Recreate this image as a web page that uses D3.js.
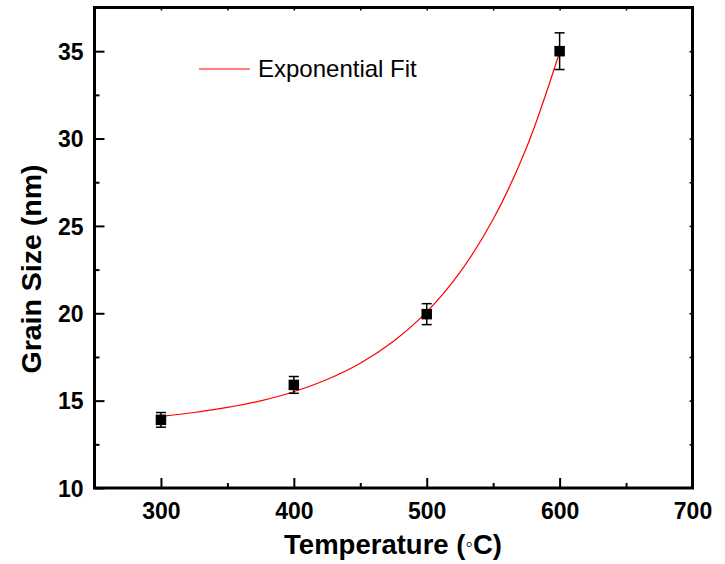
<!DOCTYPE html>
<html>
<head>
<meta charset="utf-8">
<script src="https://cdn.jsdelivr.net/npm/d3@7/dist/d3.min.js"></script>
<style>
  body { margin: 0; background: #fff; }
  svg { display: block; font-family: Arial, "Liberation Sans", sans-serif; }
</style>
</head>
<body>
<svg id="chart" width="725" height="564"></svg>
<script>
// ---- data ----
const temperatures = [300, 400, 500, 600];
const grainSizes   = [13.9, 15.9, 19.95, 35.0];
const grainErrors  = [0.42, 0.48, 0.6, 1.05];

// exponential-fit curve
const fitX = [300, 325, 350, 375, 400, 425, 450, 475, 500, 525, 550, 575, 600];
const fitY = [14.10, 14.32, 14.61, 14.99, 15.51, 16.21, 17.14, 18.40, 20.08, 22.34, 25.38, 29.46, 34.94];

const xTicks = [300, 400, 500, 600, 700];
const xMinor = [350, 450, 550, 650];
const yTicks = [10, 15, 20, 25, 30, 35];
const yMinor = [12.5, 17.5, 22.5, 27.5, 32.5, 37.5];

const xLabel = "Temperature (";
const yLabel = "Grain Size (nm)";
const legendLabel = "Exponential Fit";

// ---- layout ----
const svg = d3.select("#chart");
const L = 94.5, R = 692.5, T = 7.5, B = 488;
const x = d3.scaleLinear().domain([250, 700]).range([L, R]);
const y = d3.scaleLinear().domain([10, 37.5]).range([B, T]);

// fit line
const line = d3.line().x((d, i) => x(fitX[i])).y(d => y(d)).curve(d3.curveCatmullRom.alpha(0.5));
svg.append("path").datum(fitY).attr("d", line)
  .attr("fill", "none").attr("stroke", "#ff0000").attr("stroke-width", 1.2);

// error bars
const pts = temperatures.map((t, i) => ({t, v: grainSizes[i], e: grainErrors[i]}));
const eb = svg.append("g").attr("stroke", "#000").attr("stroke-width", 1.5);
pts.forEach(d => {
  eb.append("line").attr("x1", x(d.t)).attr("x2", x(d.t)).attr("y1", y(d.v - d.e)).attr("y2", y(d.v + d.e));
  [d.v - d.e, d.v + d.e].forEach(v => {
    eb.append("line").attr("x1", x(d.t) - 5).attr("x2", x(d.t) + 5).attr("y1", y(v)).attr("y2", y(v));
  });
});
// markers
svg.append("g").selectAll("rect").data(pts).join("rect")
  .attr("x", d => x(d.t) - 5.25).attr("y", d => y(d.v) - 5.25)
  .attr("width", 10.5).attr("height", 10.5).attr("fill", "#000");

// axes (inward ticks)
const tickStyle = g => { g.select(".domain").remove(); g.selectAll("line").attr("stroke", "#000").attr("stroke-width", 2); };
const fontStyle = g => g.selectAll("text").attr("font-size", 23).attr("font-weight", "bold").attr("fill", "#000").attr("font-family", "Arial, 'Liberation Sans', sans-serif");

// bottom major
svg.append("g").attr("transform", `translate(0,${B})`)
  .call(d3.axisBottom(x).tickValues(xTicks).tickSize(-10).tickPadding(14).tickFormat(d3.format("d")))
  .call(tickStyle).call(fontStyle)
  .call(g => g.selectAll("text").attr("dy", "0.71em").attr("y", 15));
// bottom minor
svg.append("g").attr("transform", `translate(0,${B})`)
  .call(d3.axisBottom(x).tickValues(xMinor).tickSize(-5).tickFormat(""))
  .call(tickStyle);
// left major
svg.append("g").attr("transform", `translate(${L},0)`)
  .call(d3.axisLeft(y).tickValues(yTicks).tickSize(-10).tickPadding(0).tickFormat(d3.format("d")))
  .call(tickStyle).call(fontStyle)
  .call(g => g.selectAll("text").attr("x", -11).attr("dy", "0.36em"));
// left minor
svg.append("g").attr("transform", `translate(${L},0)`)
  .call(d3.axisLeft(y).tickValues(yMinor.filter(v => v < 37.4)).tickSize(-5).tickFormat(""))
  .call(tickStyle);
// top mirror ticks
svg.append("g").attr("transform", `translate(0,${T})`)
  .call(d3.axisTop(x).tickValues(xTicks.concat(xMinor).filter(v => v < 700)).tickSize(-3).tickFormat(""))
  .call(tickStyle).call(g => g.selectAll("line").attr("stroke-width", 1.5));
// right mirror ticks
svg.append("g").attr("transform", `translate(${R},0)`)
  .call(d3.axisRight(y).tickValues(yTicks.concat(yMinor).filter(v => v > 10 && v < 37.4)).tickSize(-3).tickFormat(""))
  .call(tickStyle).call(g => g.selectAll("line").attr("stroke-width", 1.5));

// frame
svg.append("rect").attr("x", L).attr("y", T).attr("width", R - L).attr("height", B - T)
  .attr("fill", "none").attr("stroke", "#000").attr("stroke-width", 3).attr("stroke-linecap", "square");

// axis titles
const xt = svg.append("text").attr("x", 393).attr("y", 554)
  .attr("text-anchor", "middle").attr("font-size", 27.5).attr("font-weight", "bold").attr("fill", "#000");
xt.append("tspan").text(xLabel);
xt.append("tspan").text("\u25E6").attr("font-weight", "normal").attr("font-size", 21).attr("dy", -3);
xt.append("tspan").text("C)").attr("dy", 3);

svg.append("text").attr("transform", `translate(41,269) rotate(-90)`)
  .attr("text-anchor", "middle").attr("font-size", 28.5).attr("font-weight", "bold").attr("fill", "#000")
  .text(yLabel);

// legend
svg.append("line").attr("x1", 199).attr("x2", 250).attr("y1", 69).attr("y2", 69)
  .attr("stroke", "#ff0000").attr("stroke-width", 1.2);
svg.append("text").attr("x", 258).attr("y", 77).attr("font-size", 24).attr("fill", "#000")
  .text(legendLabel);
</script>
</body>
</html>
